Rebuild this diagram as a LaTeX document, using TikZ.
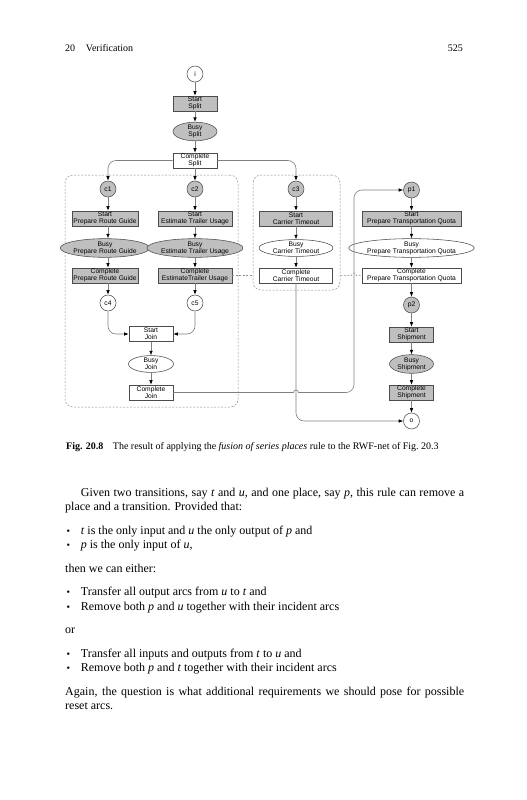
\documentclass[tikz,border=0pt]{standalone}
\usepackage{fontspec}
\setmainfont{Liberation Serif}
\newfontfamily\dsans{Liberation Sans}
\usetikzlibrary{arrows.meta,shapes.geometric}
\begin{document}
\begin{tikzpicture}[x=1pt,y=-1pt,
  df/.style={font=\dsans\fontsize{6.7}{7.2}\selectfont},
  trans/.style={df,draw=black!70,line width=0.55pt,rectangle,minimum height=15pt,inner sep=0pt,align=center},
  busy/.style={df,draw=black!70,line width=0.55pt,ellipse,minimum height=16pt,inner sep=0pt,align=center},
  place/.style={df,draw=black!70,line width=0.55pt,circle,minimum size=16pt,inner sep=0pt},
  gf/.style={fill=black!25},
  flow/.style={draw=black!50,line width=0.6pt,-{Latex[length=4.5pt,width=3.5pt,color=black]}},
  region/.style={draw=black!45,dash pattern=on 2pt off 1.5pt,rounded corners=8pt,line width=0.5pt,inner sep=0pt},
  reset/.style={draw=black!45,dash pattern=on 2pt off 1.5pt,line width=0.5pt},
  body/.style={font=\fontsize{12}{14.4}\selectfont,anchor=base west,inner sep=0pt},
  hdr/.style={font=\fontsize{10}{12}\selectfont,anchor=base west,inner sep=0pt},
  captext/.style={font=\fontsize{10}{12}\selectfont,anchor=base west,inner sep=0pt},
  bul/.style={font=\fontsize{10}{12}\selectfont,anchor=base west,inner sep=0pt},
]
\useasboundingbox (0,0) rectangle (527,800);
\fill[white] (0,0) rectangle (527,800);

% header
\node[hdr] (h1) at (65,51.5) {20};
\node[hdr] (h2) at (85.7,51.5) {Verification};
\node[hdr,anchor=base east] (h3) at (463,51.5) {525};

% regions
\node[region,minimum width=173pt,minimum height=232pt] (g1) at (151.5,291) {};
\node[region,minimum width=87pt,minimum height=115pt] (g2) at (296.5,232.5) {};

% nodes
\node[place] (i) at (195,74) {i};
\node[trans,gf,minimum width=44pt] (ss) at (195,103.5) {Start\\Split};
\node[busy,gf,minimum width=44pt] (bs) at (195,131.5) {Busy\\Split};
\node[trans,fill=white,minimum width=44pt] (cs) at (195,160.5) {Complete\\Split};

\node[place,gf] (c1) at (108,189) {c1};
\node[place,gf] (c2) at (195,189) {c2};
\node[place,gf] (c3) at (296,189) {c3};
\node[place,gf] (p1) at (411.5,190) {p1};

\node[trans,gf,minimum width=66pt] (s1) at (105,218.5) {Start\\Prepare Route Guide};
\node[busy,gf,minimum width=74pt] (b1) at (105,248) {Busy\\Prepare Route Guide};
\node[trans,gf,minimum width=66pt] (k1) at (105,275.5) {Complete\\Prepare Route Guide};

\node[trans,gf,minimum width=74pt] (s2) at (195,218.5) {Start\\Estimate Trailer Usage};
\node[busy,gf,minimum width=83pt] (b2) at (195,248) {Busy\\Estimate Trailer Usage};
\node[trans,gf,minimum width=74pt] (k2) at (195,275.5) {Complete\\EstimateTrailer Usage};

\node[trans,gf,minimum width=73pt] (s3) at (296,218.5) {Start\\Carrier Timeout};
\node[busy,fill=white,minimum width=74pt] (b3) at (296,248) {Busy\\Carrier Timeout};
\node[trans,fill=white,minimum width=73pt] (k3) at (296,275.5) {Complete\\Carrier Timeout};

\node[trans,gf,minimum width=99pt] (s4) at (411.5,218.5) {Start\\Prepare Transportation Quota};
\node[busy,fill=white,minimum width=102pt] (b4) at (411.5,248) {Busy\\Prepare Transportation Quota};
\node[trans,fill=white,minimum width=99pt] (k4) at (411.5,275.5) {Complete\\Prepare Transportation Quota};

\node[place,fill=white] (c4) at (108,303) {c4};
\node[place,fill=white] (c5) at (195,303) {c5};
\node[place,gf] (p2) at (411.5,305) {p2};

\node[trans,fill=white,minimum width=44pt] (sj) at (151,334) {Start\\Join};
\node[busy,fill=white,minimum width=45pt] (bj) at (151,364) {Busy\\Join};
\node[trans,fill=white,minimum width=44pt] (kj) at (151,392.5) {Complete\\Join};

\node[trans,gf,minimum width=44pt] (sh) at (411.5,334.5) {Start\\Shipment};
\node[busy,gf,minimum width=44pt] (bh) at (411.5,364) {Busy\\Shipment};
\node[trans,gf,minimum width=44pt] (kh) at (411.5,392.5) {Complete\\Shipment};
\node[place,fill=white] (o) at (411.5,421) {o};

\coordinate (vx) at (354,300);

% arcs
\draw[flow] (i) -- (ss);
\draw[flow] (ss) -- (bs);
\draw[flow] (bs) -- (cs);
\draw[flow] (cs) -- (c2);
\draw[flow,rounded corners=8pt] (cs.west) -| (c1.north);
\draw[flow,rounded corners=8pt] (cs.east) -| (c3.north);
\draw[flow] (c1) -- (c1 |- s1.north);
\draw[flow] (c1 |- s1.south) -- (c1 |- b1.north);
\draw[flow] (c1 |- b1.south) -- (c1 |- k1.north);
\draw[flow] (c1 |- k1.south) -- (c4);
\draw[flow] (c2) -- (s2);
\draw[flow] (s2) -- (b2);
\draw[flow] (b2) -- (k2);
\draw[flow] (k2) -- (c5);
\draw[flow] (c3) -- (s3);
\draw[flow] (s3) -- (b3);
\draw[flow] (b3) -- (k3);
\draw[flow] (p1) -- (s4);
\draw[flow] (s4) -- (b4);
\draw[flow] (b4) -- (k4);
\draw[flow] (k4) -- (p2);
\draw[flow] (p2) -- (sh);
\draw[flow] (sh) -- (bh);
\draw[flow] (bh) -- (kh);
\draw[flow] (kh) -- (o);
\draw[flow,rounded corners=8pt] (c4.south) |- (sj.west);
\draw[flow,rounded corners=8pt] (c5.south) |- (sj.east);
\draw[flow] (sj) -- (bj);
\draw[flow] (bj) -- (kj);
\draw[flow,rounded corners=8pt] (k3.south) |- (o.west);
\draw[flow] (kj.east) -- ([xshift=-2.5pt]k3.south |- kj.east) arc[start angle=180,end angle=0,radius=2.5pt] [rounded corners=8pt] -| (vx |- p1.west) -- (p1.west);

% reset arcs
\draw[reset] (k2.east) -- (g2.west |- k2.east);
\draw[reset] (g2.east |- k4.west) -- ([xshift=-2.5pt]vx |- k4.west) arc[start angle=180,end angle=0,radius=2.5pt] -- (k4.west);

% caption
\node[captext] (f1) at (66,449.5) {\textbf{Fig. 20.8}};
\node[captext] (f2) at (112.7,449.5) {The result of applying the \textit{fusion of series places} rule to the RWF-net of Fig.~20.3};

% body
\node[body] (l1) at (80.7,496) {\makebox[383.3pt][s]{Given two transitions, say \textit{t} and \textit{u}, and one place, say \textit{p}, this rule can remove a}};
\node[body] (l2) at (65,510.4) {place and a transition. Provided that:};
\node[bul] (d1) at (66.5,534) {\textbullet};
\node[body] (b1t) at (80.7,534) {\textit{t} is the only input and \textit{u} the only output of \textit{p} and};
\node[bul] (d2) at (66.5,548.4) {\textbullet};
\node[body] (b2t) at (80.7,548.4) {\textit{p} is the only input of \textit{u},};
\node[body] (l3) at (65,572) {then we can either:};
\node[bul] (d3) at (66.5,595.6) {\textbullet};
\node[body] (b3t) at (80.7,595.6) {Transfer all output arcs from \textit{u} to \textit{t} and};
\node[bul] (d4) at (66.5,610) {\textbullet};
\node[body] (b4t) at (80.7,610) {Remove both \textit{p} and \textit{u} together with their incident arcs};
\node[body] (l4) at (65,633.6) {or};
\node[bul] (d5) at (66.5,657.2) {\textbullet};
\node[body] (b5t) at (80.7,657.2) {Transfer all inputs and outputs from \textit{t} to \textit{u} and};
\node[bul] (d6) at (66.5,671.6) {\textbullet};
\node[body] (b6t) at (80.7,671.6) {Remove both \textit{p} and \textit{t} together with their incident arcs};
\node[body] (l5) at (65,695.2) {\makebox[399pt][s]{Again, the question is what additional requirements we should pose for possible}};
\node[body] (l6) at (65,709.6) {reset arcs.};
\end{tikzpicture}
\end{document}
